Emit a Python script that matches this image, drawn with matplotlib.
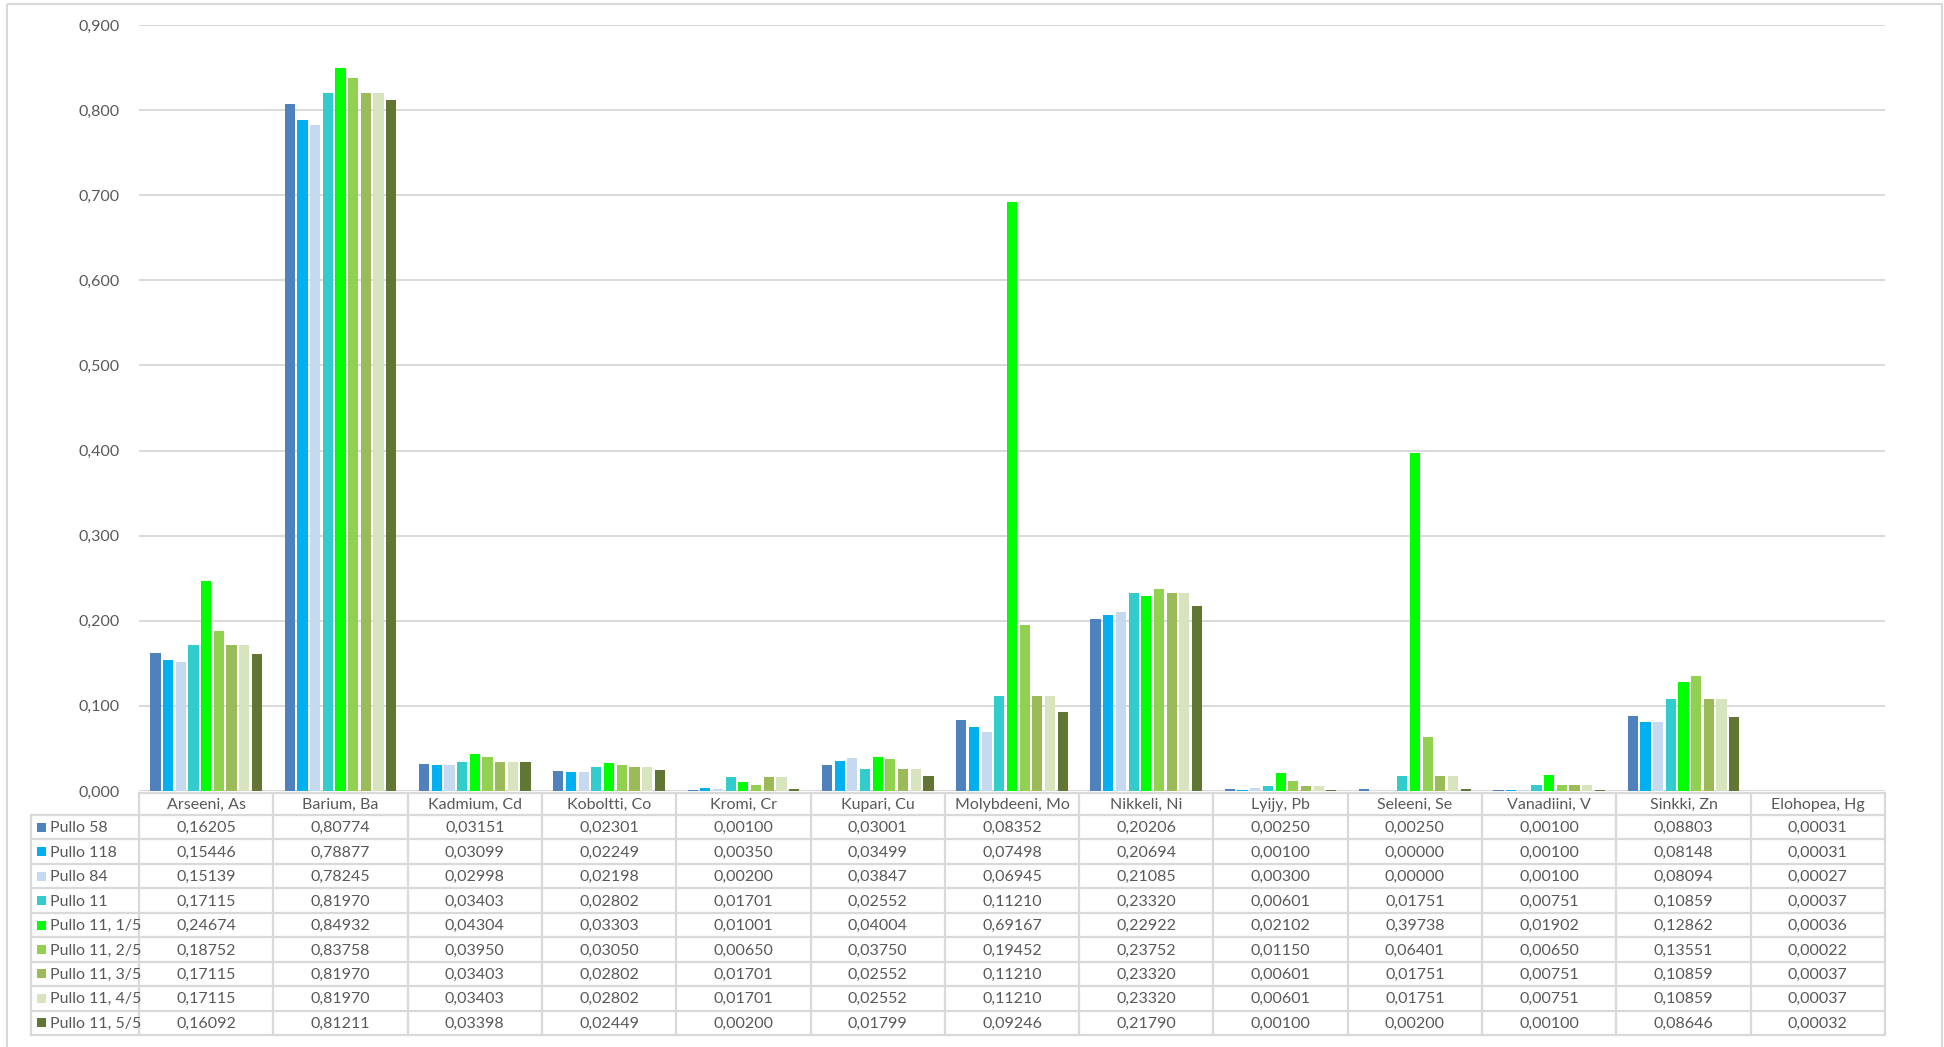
import matplotlib
matplotlib.use("Agg")
import matplotlib.pyplot as plt
from matplotlib.patches import Rectangle
from matplotlib.lines import Line2D
import numpy as np

plt.rcParams['font.family'] = ['Lato', 'DejaVu Sans']

categories = ["Arseeni, As", "Barium, Ba", "Kadmium, Cd", "Koboltti, Co", "Kromi, Cr",
              "Kupari, Cu", "Molybdeeni, Mo", "Nikkeli, Ni", "Lyijy, Pb", "Seleeni, Se",
              "Vanadiini, V", "Sinkki, Zn", "Elohopea, Hg"]

series_names = ["Pullo 58", "Pullo 118", "Pullo 84", "Pullo 11", "Pullo 11, 1/5",
                "Pullo 11, 2/5", "Pullo 11, 3/5", "Pullo 11, 4/5", "Pullo 11, 5/5"]

pullo_58 = [0.16205, 0.80774, 0.03151, 0.02301, 0.00100, 0.03001, 0.08352, 0.20206, 0.00250, 0.00250, 0.00100, 0.08803, 0.00031]
pullo_118 = [0.15446, 0.78877, 0.03099, 0.02249, 0.00350, 0.03499, 0.07498, 0.20694, 0.00100, 0.00000, 0.00100, 0.08148, 0.00031]
pullo_84 = [0.15139, 0.78245, 0.02998, 0.02198, 0.00200, 0.03847, 0.06945, 0.21085, 0.00300, 0.00000, 0.00100, 0.08094, 0.00027]
pullo_11 = [0.17115, 0.81970, 0.03403, 0.02802, 0.01701, 0.02552, 0.11210, 0.23320, 0.00601, 0.01751, 0.00751, 0.10859, 0.00037]
pullo_11_1_5 = [0.24674, 0.84932, 0.04304, 0.03303, 0.01001, 0.04004, 0.69167, 0.22922, 0.02102, 0.39738, 0.01902, 0.12862, 0.00036]
pullo_11_2_5 = [0.18752, 0.83758, 0.03950, 0.03050, 0.00650, 0.03750, 0.19452, 0.23752, 0.01150, 0.06401, 0.00650, 0.13551, 0.00022]
pullo_11_3_5 = [0.17115, 0.81970, 0.03403, 0.02802, 0.01701, 0.02552, 0.11210, 0.23320, 0.00601, 0.01751, 0.00751, 0.10859, 0.00037]
pullo_11_4_5 = [0.17115, 0.81970, 0.03403, 0.02802, 0.01701, 0.02552, 0.11210, 0.23320, 0.00601, 0.01751, 0.00751, 0.10859, 0.00037]
pullo_11_5_5 = [0.16092, 0.81211, 0.03398, 0.02449, 0.00200, 0.01799, 0.09246, 0.21790, 0.00100, 0.00200, 0.00100, 0.08646, 0.00032]

series = [pullo_58, pullo_118, pullo_84, pullo_11, pullo_11_1_5,
          pullo_11_2_5, pullo_11_3_5, pullo_11_4_5, pullo_11_5_5]

colors = ["#4F81BD", "#00B0F0", "#C5D9F1", "#33CCCC", "#00FF00",
          "#92D050", "#9BBB59", "#D7E4BD", "#617634"]

y_ticks = [0.0, 0.1, 0.2, 0.3, 0.4, 0.5, 0.6, 0.7, 0.8, 0.9]

TEXT = "#595959"
GRID = "#D9D9D9"

W, H = 1944, 1047
fig = plt.figure(figsize=(W / 100, H / 100), dpi=100)
fig.patch.set_facecolor("white")

plot_left, plot_right = 139, 1885
plot_top, plot_bottom = 25, 791

ax = fig.add_axes([plot_left / W, 1 - plot_bottom / H,
                   (plot_right - plot_left) / W, (plot_bottom - plot_top) / H])

n_cat = len(categories)
n_ser = len(series)
x = np.arange(n_cat)
slot = 0.85 / n_ser
bar_w = 0.076
for i, (vals, col) in enumerate(zip(series, colors)):
    ax.bar(x + (i - (n_ser - 1) / 2) * slot, vals, width=bar_w, color=col,
           zorder=3, linewidth=0)

ax.set_xlim(-0.5, n_cat - 0.5)
ax.set_ylim(0, 0.9)
ax.set_yticks(y_ticks)
ax.set_yticklabels([f"{v:.3f}".replace(".", ",") for v in y_ticks],
                   fontsize=11.5, color=TEXT)
ax.set_xticks([])
ax.tick_params(axis="y", length=0, pad=14)
ax.yaxis.grid(True, color=GRID, linewidth=1.4, zorder=0)
for s in ax.spines.values():
    s.set_visible(False)

# Data table beneath the plot, drawn in pixel coordinates
ov = fig.add_axes([0, 0, 1, 1], facecolor="none")
ov.set_xlim(0, W)
ov.set_ylim(H, 0)
ov.axis("off")

# outer chart frame (continues below the bottom edge)
ov.add_patch(Rectangle((7, 4), 1935, 1100, fill=False, edgecolor=GRID, linewidth=1.5,
                       clip_on=True))

legend_left = 31
col_edges = np.linspace(plot_left, plot_right, n_cat + 1)
head_top, head_bot = 793, 815
table_bot = 1035
row_edges = np.linspace(head_bot, table_bot, n_ser + 1)

lw = 1.6
# horizontal lines
ov.add_line(Line2D([plot_left, plot_right], [head_top, head_top], color=GRID, lw=lw))
for y in row_edges:
    ov.add_line(Line2D([legend_left, plot_right], [y, y], color=GRID, lw=lw))
# vertical lines
for xe in col_edges:
    ov.add_line(Line2D([xe, xe], [head_top, table_bot], color=GRID, lw=lw))
ov.add_line(Line2D([legend_left, legend_left], [head_bot, table_bot], color=GRID, lw=lw))

# header
for j, cat in enumerate(categories):
    ov.text((col_edges[j] + col_edges[j + 1]) / 2, (head_top + head_bot) / 2 + 1, cat,
            ha="center", va="center", fontsize=11.5, color=TEXT)

# rows
for i, (name, vals, col) in enumerate(zip(series_names, series, colors)):
    yc = (row_edges[i] + row_edges[i + 1]) / 2
    ov.add_patch(Rectangle((37, yc - 4.5), 9, 9, facecolor=col, edgecolor="none"))
    ov.text(50, yc + 1, name, ha="left", va="center", fontsize=11.5, color=TEXT)
    for j, v in enumerate(vals):
        ov.text((col_edges[j] + col_edges[j + 1]) / 2, yc + 1,
                f"{v:.5f}".replace(".", ","), ha="center", va="center",
                fontsize=11.5, color=TEXT)

fig.savefig("out.png", dpi=100)
